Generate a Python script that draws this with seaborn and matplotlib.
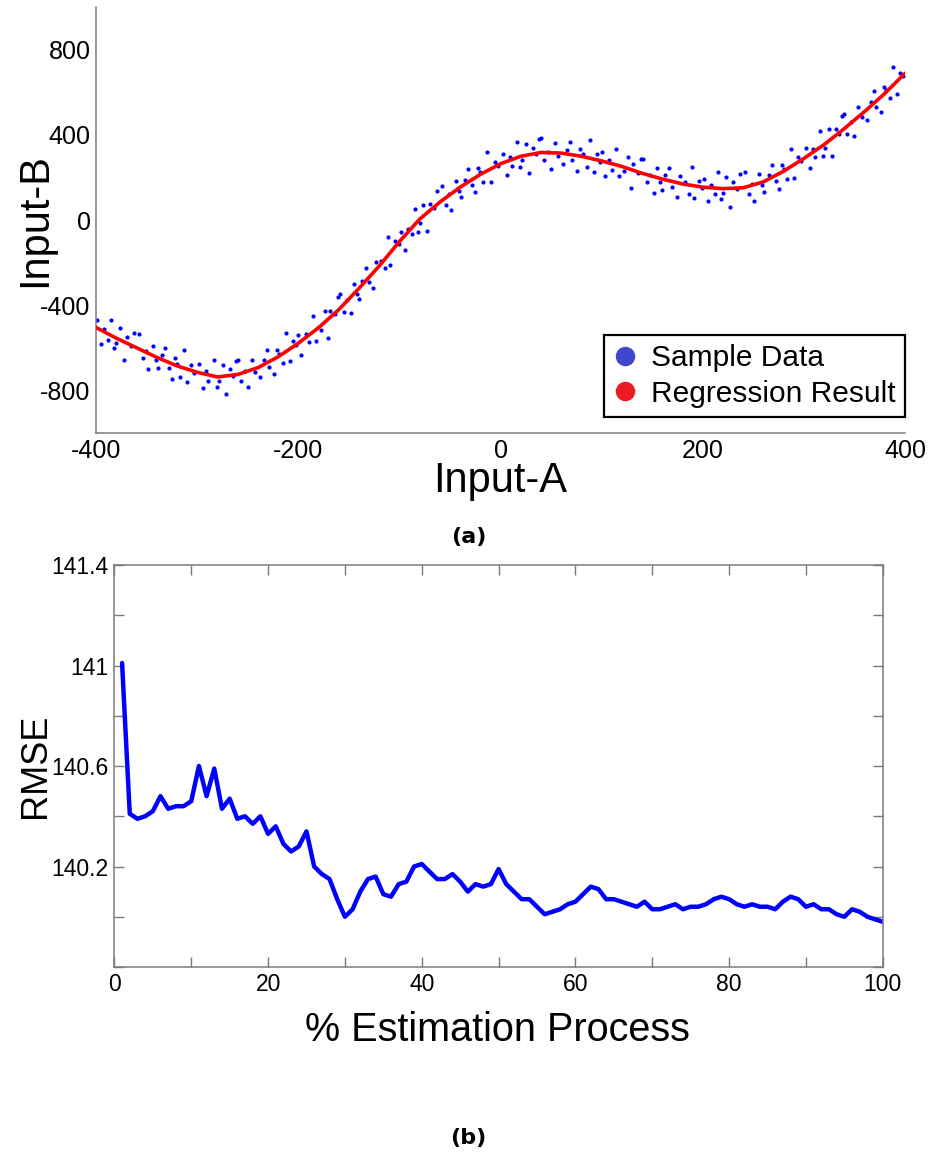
import matplotlib
matplotlib.use("Agg")
import matplotlib.pyplot as plt
from matplotlib.ticker import MultipleLocator, FixedLocator, FuncFormatter
from matplotlib.lines import Line2D
import seaborn as sns
import pandas as pd

# ---------------- data: panel (a) ----------------
sample_x = [
    -399, -395, -392, -388, -385, -382, -380, -377, -373, -370, -366, -363,
    -358, -354, -351, -349, -344, -341, -339, -335, -332, -328, -325, -322,
    -320, -317, -313, -310, -306, -303, -298, -294, -291, -289, -284, -281,
    -279, -275, -272, -268, -265, -262, -260, -257, -253, -250, -246, -243,
    -238, -234, -231, -229, -224, -221, -219, -215, -212, -208, -205, -202,
    -200, -197, -193, -190, -186, -183, -178, -174, -171, -169, -164, -161,
    -159, -155, -152, -148, -145, -142, -140, -137, -133, -130, -126, -123,
    -118, -114, -111, -109, -104, -101, -99, -95, -92, -88, -85, -82,
    -80, -77, -73, -70, -66, -63, -58, -54, -51, -49, -44, -41,
    -39, -35, -32, -28, -25, -22, -20, -17, -13, -10, -6, -3,
    2, 6, 9, 11, 16, 19, 21, 25, 28, 32, 35, 38,
    40, 43, 47, 50, 54, 57, 62, 66, 69, 71, 76, 79,
    81, 85, 88, 92, 95, 98, 100, 103, 107, 110, 114, 117,
    122, 126, 129, 131, 136, 139, 141, 145, 148, 152, 155, 158,
    160, 163, 167, 170, 174, 177, 182, 186, 189, 191, 196, 199,
    201, 205, 208, 212, 215, 218, 220, 223, 227, 230, 234, 237,
    242, 246, 249, 251, 256, 259, 261, 265, 268, 272, 275, 278,
    280, 283, 287, 290, 294, 297, 302, 306, 309, 311, 316, 319,
    321, 325, 328, 332, 335, 338, 340, 343, 347, 350, 354, 357,
    362, 366, 369, 371, 376, 379, 381, 385, 388, 392, 395, 398,
]
sample_y = [
    -468, -583, -510, -565, -468, -600, -575, -507, -656, -548, -592, -528,
    -535, -649, -615, -700, -591, -658, -697, -635, -601, -694, -745, -646,
    -675, -735, -611, -760, -681, -716, -677, -787, -710, -757, -658, -786,
    -756, -679, -817, -700, -733, -661, -655, -755, -709, -784, -658, -713,
    -738, -658, -610, -690, -722, -610, -629, -671, -531, -664, -569, -589,
    -538, -632, -537, -572, -452, -566, -516, -425, -552, -428, -442, -359,
    -345, -430, -375, -435, -300, -345, -370, -284, -223, -293, -317, -196,
    -194, -226, -78, -212, -98, -111, -55, -139, -43, -67, 54, -56,
    -15, 72, -52, 75, 56, 138, 162, 71, 122, 49, 186, 137,
    108, 190, 239, 166, 130, 244, 225, 178, 318, 180, 275, 253,
    309, 211, 296, 254, 368, 248, 281, 360, 222, 341, 309, 381,
    388, 283, 322, 242, 361, 300, 264, 331, 368, 282, 233, 336,
    309, 250, 376, 227, 309, 275, 318, 209, 284, 235, 335, 206,
    229, 297, 153, 264, 221, 287, 289, 178, 214, 129, 245, 181,
    143, 210, 245, 157, 107, 208, 178, 121, 248, 102, 183, 151,
    195, 88, 167, 121, 225, 99, 128, 204, 64, 180, 146, 216,
    225, 125, 170, 92, 219, 164, 133, 213, 260, 185, 148, 260,
    240, 194, 336, 200, 297, 276, 337, 245, 334, 296, 417, 302,
    339, 429, 300, 430, 406, 488, 500, 407, 463, 395, 531, 483,
    469, 556, 608, 532, 508, 626, 610, 574, 718, 592, 691, 676,
]
regression_x = [
    -400, -380, -360, -340, -320, -300, -280, -260, -240, -220, -200,
    -180, -160, -140, -120, -100, -80, -60, -40, -20, 0,
    20, 40, 60, 80, 100, 120, 140, 160, 180, 200,
    220, 240, 260, 280, 300, 320, 340, 360, 380, 400,
]
regression_y = [
    -505, -555, -600, -645, -685, -715, -737, -725, -693, -642, -578,
    -505, -420, -320, -215, -100, 5, 85, 155, 215, 265,
    300, 318, 315, 300, 278, 252, 220, 193, 170, 155,
    148, 152, 180, 230, 290, 355, 430, 510, 595, 690,
]
legend_labels = ["Sample Data", "Regression Result"]

# ---------------- data: panel (b) ----------------
progress = list(range(1, 101))
rmse = [
    141.01, 140.41, 140.39, 140.40, 140.42, 140.48, 140.43, 140.44, 140.44, 140.46,
    140.60, 140.48, 140.59, 140.43, 140.47, 140.39, 140.40, 140.37, 140.40, 140.33,
    140.36, 140.29, 140.26, 140.28, 140.34, 140.20, 140.17, 140.15, 140.07, 140.00,
    140.03, 140.10, 140.15, 140.16, 140.09, 140.08, 140.13, 140.14, 140.20, 140.21,
    140.18, 140.15, 140.15, 140.17, 140.14, 140.10, 140.13, 140.12, 140.13, 140.19,
    140.13, 140.10, 140.07, 140.07, 140.04, 140.01, 140.02, 140.03, 140.05, 140.06,
    140.09, 140.12, 140.11, 140.07, 140.07, 140.06, 140.05, 140.04, 140.06, 140.03,
    140.03, 140.04, 140.05, 140.03, 140.04, 140.04, 140.05, 140.07, 140.08, 140.07,
    140.05, 140.04, 140.05, 140.04, 140.04, 140.03, 140.06, 140.08, 140.07, 140.04,
    140.05, 140.03, 140.03, 140.01, 140.00, 140.03, 140.02, 140.00, 139.99, 139.98,
]
rmse_major_ticks = [140.2, 140.6, 141.0, 141.4]

# ---------------- style ----------------
sns.set_theme(style="white")
plt.rcParams['font.family'] = ['Liberation Sans', 'DejaVu Sans']
plt.rcParams['axes.unicode_minus'] = False
plt.rcParams['text.color'] = 'black'
plt.rcParams['axes.labelcolor'] = 'black'
plt.rcParams['xtick.labelcolor'] = 'black'
plt.rcParams['ytick.labelcolor'] = 'black'
SPINE = '#7a7a7a'

fig = plt.figure(figsize=(9.3, 11.58), dpi=100)
ax1 = fig.add_axes([0.1035, 0.6261, 0.8696, 0.3676])
ax2 = fig.add_axes([0.1230, 0.1649, 0.8262, 0.3472])

# ---------------- panel (a) ----------------
df_a = pd.DataFrame({"Input-A": sample_x, "Input-B": sample_y})
df_r = pd.DataFrame({"Input-A": regression_x, "Input-B": regression_y})
sns.scatterplot(data=df_a, x="Input-A", y="Input-B", ax=ax1, color='#0000ff',
                s=9, marker='o', linewidth=0, zorder=2, legend=False)
sns.lineplot(data=df_r, x="Input-A", y="Input-B", ax=ax1, color='#ff0000',
             lw=2.6, zorder=3, legend=False)
ax1.set_xlim(-400, 400)
ax1.set_ylim(-1000, 1000)
ax1.xaxis.set_major_locator(MultipleLocator(200))
ax1.xaxis.set_minor_locator(MultipleLocator(100))
ax1.yaxis.set_major_locator(FixedLocator([-800, -400, 0, 400, 800]))
ax1.yaxis.set_minor_locator(MultipleLocator(200))
for s in ['top', 'right']:
    ax1.spines[s].set_visible(False)
for s in ['left', 'bottom']:
    ax1.spines[s].set_color(SPINE)
    ax1.spines[s].set_linewidth(1.1)
ax1.tick_params(which='both', direction='in', length=7, width=1, color=SPINE,
                labelsize=18, pad=4, labelcolor='black')
ax1.set_xlabel("Input-A", fontsize=30, va='center', color='black')
ax1.xaxis.set_label_coords(0.5, -0.112)
ax1.set_ylabel("Input-B", fontsize=30, va='center', color='black')
ax1.yaxis.set_label_coords(-0.0758, 0.5)

handles = [
    Line2D([0], [0], marker='o', linestyle='none', markersize=13,
           markerfacecolor='#3f48cc', markeredgecolor='#3f48cc'),
    Line2D([0], [0], marker='o', linestyle='none', markersize=13,
           markerfacecolor='#ed1c24', markeredgecolor='#ed1c24'),
]
leg = ax1.legend(handles, legend_labels, loc='lower right',
                 bbox_to_anchor=(1.0, 0.038), borderaxespad=0, fontsize=21.5,
                 frameon=True, fancybox=False, handlelength=0.8,
                 handletextpad=0.5, borderpad=0.3, labelspacing=0.25)
leg.get_frame().set_edgecolor('black')
leg.get_frame().set_linewidth(1.6)
leg.get_frame().set_facecolor('white')
leg.get_frame().set_alpha(1)
for t in leg.get_texts():
    t.set_color('black')

fig.text(469 / 930, 1 - 537 / 1158, "(a)", ha='center', va='center',
         fontsize=16, fontweight='bold', family='DejaVu Sans', color='black')

# ---------------- panel (b) ----------------
df_b = pd.DataFrame({"progress": progress, "RMSE": rmse})
sns.lineplot(data=df_b, x="progress", y="RMSE", ax=ax2, color='#0000ff',
             lw=3.2, legend=False)
ax2.set_xlim(0, 100)
ax2.set_ylim(139.8, 141.4)
ax2.xaxis.set_major_locator(MultipleLocator(20))
ax2.xaxis.set_minor_locator(MultipleLocator(10))
ax2.yaxis.set_major_locator(FixedLocator(rmse_major_ticks))
ax2.yaxis.set_minor_locator(MultipleLocator(0.2))
ax2.yaxis.set_major_formatter(FuncFormatter(lambda v, p: f"{v:g}"))
for s in ['top', 'right', 'left', 'bottom']:
    ax2.spines[s].set_visible(True)
    ax2.spines[s].set_color(SPINE)
    ax2.spines[s].set_linewidth(1.1)
ax2.tick_params(which='both', direction='in', length=7, width=1, color=SPINE,
                labelsize=16.5, pad=4, labelcolor='black',
                top=True, right=True, bottom=True, left=True)
ax2.set_xlabel("% Estimation Process", fontsize=28.5, va='center', color='black')
ax2.xaxis.set_label_coords(0.498, -0.157)
ax2.set_ylabel("RMSE", fontsize=26, va='center', color='black')
ax2.yaxis.set_label_coords(-0.103, 0.5)

fig.text(468 / 930, 1 - 1138 / 1158, "(b)", ha='center', va='center',
         fontsize=16, fontweight='bold', family='DejaVu Sans', color='black')

fig.savefig("out.png", dpi=100)
